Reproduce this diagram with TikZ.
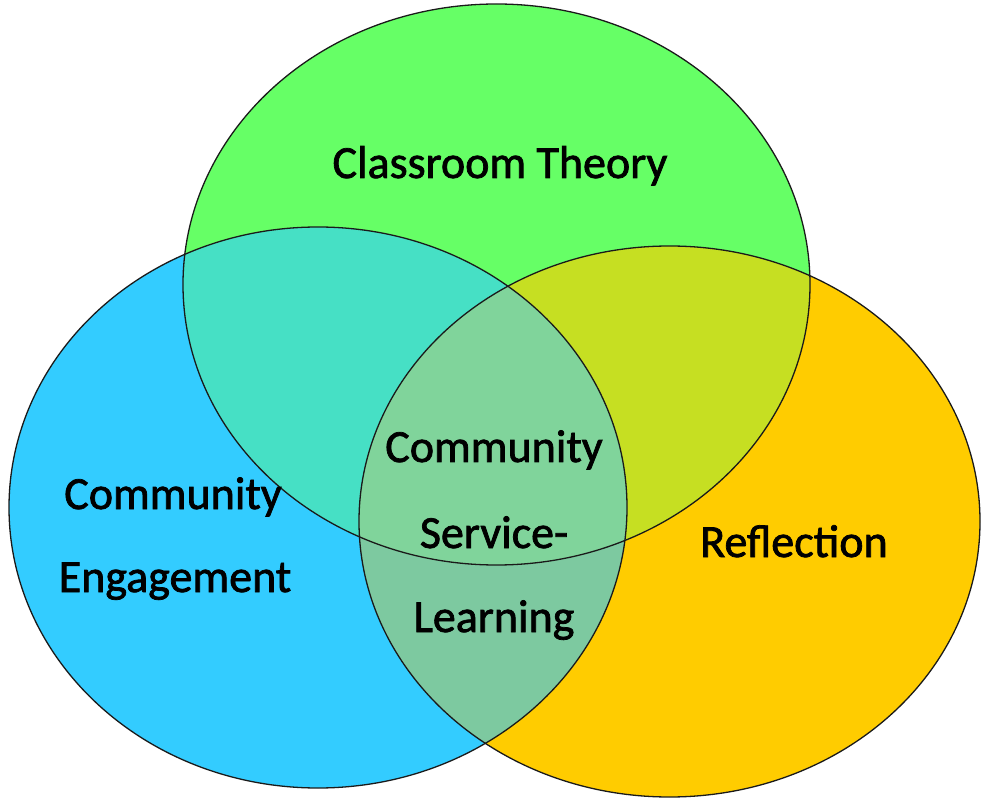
\documentclass[tikz,border=0pt]{standalone}
\usepackage{fontspec}
\setmainfont{Carlito}
\newfontfamily\lblfont[FakeBold=1.6]{Carlito}
\definecolor{cG}{HTML}{66FF66}
\definecolor{cB}{HTML}{33CCFF}
\definecolor{cY}{HTML}{FFCC00}
\definecolor{cGB}{HTML}{46E0C5}
\definecolor{cGY}{HTML}{C6DF22}
\definecolor{cBY}{HTML}{7DC9A0}
\definecolor{cGBY}{HTML}{80D49B}
\definecolor{edge}{HTML}{1A1A1A}
\tikzset{
  gr/.style={x radius=313.5pt, y radius=280.5pt},
  br/.style={x radius=309pt, y radius=280.5pt},
  yr/.style={x radius=310.5pt, y radius=275.5pt},
  outline/.style={draw=edge, line width=1.3pt},
  lbl/.style={anchor=base, inner sep=0pt, text=black, font=\lblfont\fontsize{46}{55}\selectfont}
}
\begin{document}
\begin{tikzpicture}[x=1pt,y=-1pt]
\useasboundingbox (0,0) rectangle (983,799);
\coordinate (gc) at (496.5,284.5);
\coordinate (bc) at (318,507.5);
\coordinate (yc) at (669.5,521.5);
% base fills
\fill[cG] (gc) ellipse [gr];
\fill[cB] (bc) ellipse [br];
\fill[cY] (yc) ellipse [yr];
% pairwise overlaps
\begin{scope}
  \clip (gc) ellipse [gr];
  \fill[cGB] (bc) ellipse [br];
  \fill[cGY] (yc) ellipse [yr];
\end{scope}
\begin{scope}
  \clip (bc) ellipse [br];
  \fill[cBY] (yc) ellipse [yr];
\end{scope}
\begin{scope}
  \clip (gc) ellipse [gr];
  \clip (bc) ellipse [br];
  \fill[cGBY] (yc) ellipse [yr];
\end{scope}
% outlines
\draw[outline] (gc) ellipse [gr];
\draw[outline] (bc) ellipse [br];
\draw[outline] (yc) ellipse [yr];
% labels
\node[lbl] (ct) at (500,178) {Classroom Theory};
\node[lbl] (ce1) at (173,509) {Community};
\node[lbl] (ce2) at (175,592) {Engagement};
\node[lbl] (rf) at (794,557) {Reflection};
\node[lbl] (csl1) at (494,462) {Community};
\node[lbl] (csl2) at (494,548) {Service-};
\node[lbl] (csl3) at (494,632) {Learning};
\end{tikzpicture}
\end{document}
